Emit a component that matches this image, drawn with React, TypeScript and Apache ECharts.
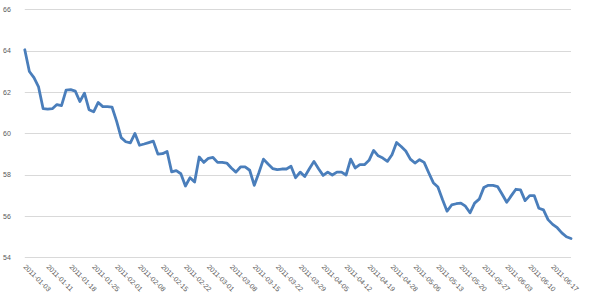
import React, { useEffect, useRef } from "react";
import * as echarts from "echarts";

const dates: string[] = [
  "2011-01-03", "2011-01-04", "2011-01-05", "2011-01-06", "2011-01-07",
  "2011-01-11", "2011-01-12", "2011-01-13", "2011-01-14", "2011-01-17",
  "2011-01-18", "2011-01-19", "2011-01-20", "2011-01-21", "2011-01-24",
  "2011-01-25", "2011-01-26", "2011-01-27", "2011-01-28", "2011-01-31",
  "2011-02-01", "2011-02-02", "2011-02-03", "2011-02-04", "2011-02-07",
  "2011-02-08", "2011-02-09", "2011-02-10", "2011-02-11", "2011-02-14",
  "2011-02-15", "2011-02-16", "2011-02-17", "2011-02-18", "2011-02-21",
  "2011-02-22", "2011-02-23", "2011-02-24", "2011-02-25", "2011-02-28",
  "2011-03-01", "2011-03-02", "2011-03-03", "2011-03-04", "2011-03-07",
  "2011-03-08", "2011-03-09", "2011-03-10", "2011-03-11", "2011-03-14",
  "2011-03-15", "2011-03-16", "2011-03-17", "2011-03-18", "2011-03-21",
  "2011-03-22", "2011-03-23", "2011-03-24", "2011-03-25", "2011-03-28",
  "2011-03-29", "2011-03-30", "2011-03-31", "2011-04-01", "2011-04-04",
  "2011-04-05", "2011-04-06", "2011-04-07", "2011-04-08", "2011-04-11",
  "2011-04-12", "2011-04-13", "2011-04-14", "2011-04-15", "2011-04-18",
  "2011-04-19", "2011-04-20", "2011-04-21", "2011-04-26", "2011-04-27",
  "2011-04-28", "2011-04-29", "2011-05-02", "2011-05-03", "2011-05-05",
  "2011-05-06", "2011-05-09", "2011-05-10", "2011-05-11", "2011-05-12",
  "2011-05-13", "2011-05-16", "2011-05-17", "2011-05-18", "2011-05-19",
  "2011-05-20", "2011-05-23", "2011-05-24", "2011-05-25", "2011-05-26",
  "2011-05-27", "2011-05-30", "2011-05-31", "2011-06-01", "2011-06-02",
  "2011-06-03", "2011-06-06", "2011-06-07", "2011-06-08", "2011-06-09",
  "2011-06-10", "2011-06-13", "2011-06-14", "2011-06-15", "2011-06-16",
  "2011-06-17", "2011-06-20", "2011-06-21", "2011-06-22", "2011-06-23",
];

const values: number[] = [
  64.05, 63.0, 62.7, 62.25, 61.2, 61.18, 61.2, 61.4, 61.35, 62.1,
  62.12, 62.05, 61.55, 61.95, 61.15, 61.05, 61.5, 61.3, 61.3, 61.28,
  60.6, 59.8, 59.6, 59.55, 60.0, 59.43, 59.49, 59.56, 59.63, 59.0,
  59.02, 59.13, 58.14, 58.2, 58.05, 57.46, 57.86, 57.65, 58.86, 58.6,
  58.8, 58.84, 58.6, 58.6, 58.57, 58.33, 58.13, 58.38, 58.38, 58.22,
  57.49, 58.1, 58.76, 58.52, 58.3, 58.25, 58.28, 58.28, 58.41, 57.86,
  58.13, 57.92, 58.29, 58.65, 58.29, 57.97, 58.13, 57.99, 58.13, 58.13,
  57.99, 58.76, 58.33, 58.49, 58.49, 58.7, 59.18, 58.92, 58.81, 58.65,
  58.97, 59.56, 59.37, 59.15, 58.76, 58.57, 58.73, 58.6, 58.1, 57.62,
  57.41, 56.8, 56.24, 56.54, 56.6, 56.63, 56.48, 56.16, 56.63, 56.82,
  57.38, 57.49, 57.49, 57.43, 57.06, 56.67, 56.99, 57.3, 57.27, 56.75,
  56.99, 56.99, 56.38, 56.3, 55.83, 55.6, 55.44, 55.19, 55.0, 54.92,
];

const yMin = 54;
const yMax = 66;
const yStep = 2;

export default function App() {
  const ref = useRef<HTMLDivElement>(null);
  useEffect(() => {
    if (!ref.current) return;
    const chart = echarts.init(ref.current, null, { renderer: "svg" });
    chart.setOption({
      animation: false,
      backgroundColor: "#ffffff",
      grid: { left: 23, right: 29, top: 9.5, bottom: 34, containLabel: false },
      xAxis: {
        type: "category",
        data: dates,
        boundaryGap: false,
        axisLine: { show: false },
        axisTick: { show: false },
        splitLine: { show: false },
        axisLabel: {
          interval: 4,
          rotate: -45,
          fontSize: 7,
          color: "#595959",
          fontFamily: "Liberation Sans, Arial, sans-serif",
          margin: 8,
        },
      },
      yAxis: {
        type: "value",
        min: yMin,
        max: yMax,
        interval: yStep,
        axisLine: { show: false },
        axisTick: { show: false },
        splitLine: { lineStyle: { color: "#d9d9d9", width: 1 } },
        axisLabel: {
          fontSize: 7,
          color: "#595959",
          fontFamily: "Liberation Sans, Arial, sans-serif",
          margin: 14,
        },
      },
      series: [
        {
          type: "line",
          data: values,
          showSymbol: false,
          symbol: "none",
          lineStyle: { color: "#4a7ebb", width: 2.8, join: "round", cap: "round" },
        },
      ],
    });
    return () => chart.dispose();
  }, []);
  return <div ref={ref} style={{ width: 600, height: 295, position: "absolute", left: 0, top: 0 }} />;
}
